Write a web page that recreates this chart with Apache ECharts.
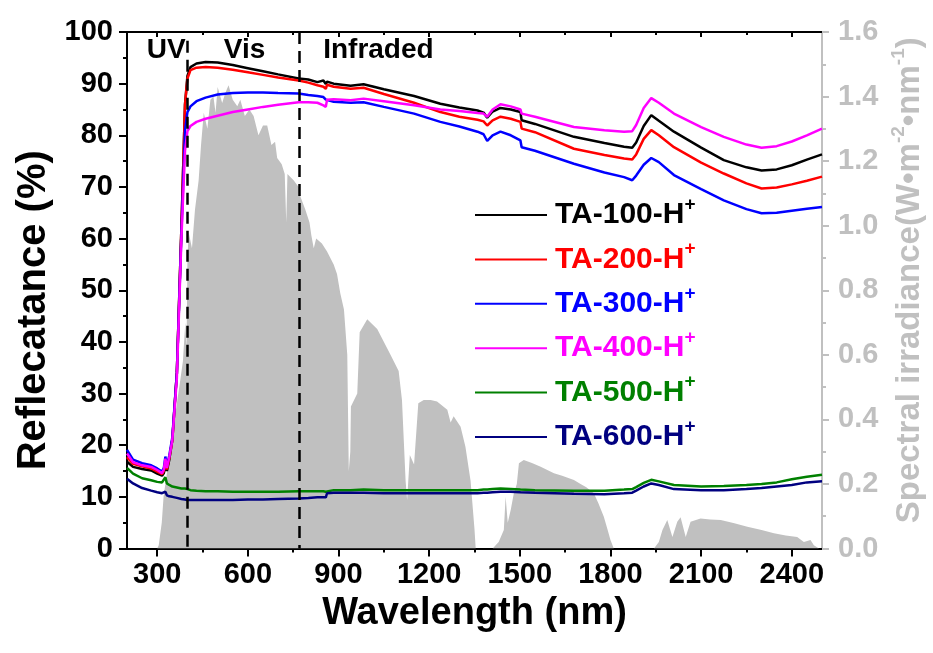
<!DOCTYPE html>
<html>
<head>
<meta charset="utf-8">
<script src="https://cdn.jsdelivr.net/npm/echarts@6/dist/echarts.min.js"></script>
<style>html,body{margin:0;padding:0;background:#fff}#c{width:933px;height:653px}</style>
</head>
<body>
<div id="c"></div>
<script>
const FONT = 'Liberation Sans, Arial, sans-serif';
const xMajorTicks = [300, 600, 900, 1200, 1500, 1800, 2100, 2400];
const xMinorTicks = [450, 750, 1050, 1350, 1650, 1950, 2250];
const seriesNames = ['TA-100-H+', 'TA-200-H+', 'TA-300-H+', 'TA-400-H+', 'TA-500-H+', 'TA-600-H+'];
const seriesColors = ['#000000', '#ff0000', '#0000ff', '#ff00ff', '#008000', '#000080'];
const regionLabels = ['UV', 'Vis', 'Infraded'];
const regionLabelPos = [[330, 96.5], [589, 96.5], [1032, 96.5]];
const regionBounds = [400, 770];

const wl = [200,220,250,280,300,316,322,327,332,340,350,365,380,392,400,410,430,460,500,550,600,650,700,768,800,830,850,858,862,884,940,983,1050,1150,1237,1300,1360,1380,1392,1410,1436,1470,1502,1506,1550,1679,1780,1845,1872,1885,1910,1935,1960,2010,2100,2175,2250,2300,2350,2400,2450,2500];
const ta100 = [16.8,15.8,15.4,15.1,14.5,14.1,14.6,16.2,15.0,17.2,21.0,34.0,62.0,86.0,91.5,93.2,93.9,94.2,94.1,93.6,93.0,92.4,91.8,91.0,90.8,90.3,90.6,89.9,90.4,90.0,89.6,89.9,88.9,87.6,86.1,85.4,84.8,84.4,83.4,84.6,85.3,85.0,84.5,82.9,82.2,79.7,78.5,77.8,77.6,78.6,81.8,83.9,82.8,80.7,77.6,75.2,73.8,73.2,73.4,74.2,75.3,76.3];
const ta200 = [17.7,16.4,15.9,15.5,14.9,14.4,15.0,16.8,15.3,17.5,21.0,34.0,62.0,86.0,91.0,92.6,93.1,93.2,93.1,92.7,92.2,91.7,91.2,90.6,90.2,89.7,89.4,89.0,89.8,89.4,89.0,89.2,88.0,86.3,84.5,83.6,83.0,82.7,81.9,82.9,83.6,83.2,82.6,81.3,80.6,77.4,76.2,75.5,75.3,76.3,79.3,81.0,80.0,77.7,74.7,72.6,70.7,69.7,69.9,70.5,71.2,72.0];
const ta300 = [19.1,17.2,16.5,16.1,15.5,14.9,15.6,17.8,16.0,18.0,21.5,34.0,61.0,81.0,84.5,85.6,86.6,87.3,87.9,88.2,88.3,88.3,88.2,88.1,87.8,87.6,87.4,86.9,86.6,86.5,86.3,86.4,85.5,84.2,82.6,81.7,80.7,80.2,78.9,80.0,80.7,80.0,79.0,77.7,77.0,74.5,72.8,71.9,71.3,72.2,74.3,75.6,74.8,72.3,69.6,67.4,65.7,64.9,65.0,65.4,65.8,66.1];
const ta400 = [18.4,16.7,16.1,15.8,15.2,14.6,15.3,17.4,15.6,17.7,21.0,33.0,60.0,77.0,80.8,81.8,82.6,83.2,83.8,84.5,85.0,85.5,85.9,86.4,86.4,86.3,85.8,85.5,86.9,87.0,86.8,87.1,86.6,85.8,85.0,84.7,84.3,84.2,83.6,85.0,86.0,85.6,85.0,84.2,83.6,81.6,81.0,80.7,80.8,82.0,85.3,87.2,86.3,84.2,81.6,79.7,78.2,77.6,77.9,78.8,80.0,81.3];
const ta500 = [15.6,14.5,13.6,13.2,12.9,12.8,12.9,13.8,12.6,12.3,12.0,11.8,11.6,11.6,11.5,11.3,11.2,11.1,11.1,11.0,11.0,11.0,11.0,11.1,11.1,11.1,11.1,11.0,11.3,11.3,11.3,11.4,11.3,11.3,11.3,11.3,11.3,11.4,11.4,11.5,11.6,11.5,11.4,11.4,11.3,11.2,11.2,11.4,11.5,11.9,12.7,13.3,13.0,12.3,12.0,12.1,12.3,12.5,12.8,13.4,13.9,14.3];
const ta600 = [13.5,12.6,11.7,11.2,10.9,10.7,10.6,11.0,10.3,10.1,10.0,9.8,9.6,9.5,9.4,9.4,9.4,9.4,9.4,9.4,9.5,9.5,9.6,9.7,9.8,9.9,9.9,9.9,10.7,10.8,10.8,10.8,10.7,10.7,10.7,10.7,10.7,10.8,10.8,10.9,11.0,11.0,10.9,10.9,10.8,10.6,10.5,10.7,10.8,11.2,12.0,12.6,12.3,11.5,11.3,11.3,11.5,11.7,12.0,12.3,12.8,13.0];

// AM1.5 solar spectral irradiance (wavelength nm, W m^-2 nm^-1)
const irradiance = [[200,0],[300,0],[305,0.01],[315,0.08],[321,0.16],[330,0.22],[343,0.31],[355,0.38],[365,0.45],[376,0.52],[385,0.58],[393,0.70],[397,0.62],[400,0.90],[404,0.98],[415,0.93],[425,1.05],[437,1.14],[445,1.25],[454,1.35],[466,1.30],[476,1.39],[486,1.40],[493,1.35],[500,1.43],[515,1.38],[525,1.41],[536,1.435],[550,1.39],[565,1.37],[575,1.39],[590,1.34],[605,1.36],[619,1.34],[635,1.28],[650,1.31],[664,1.31],[678,1.25],[690,1.26],[697,1.21],[712,1.19],[722,1.16],[727,1.01],[731,1.16],[752,1.14],[768,1.12],[774,1.09],[790,1.05],[804,1.01],[810,0.97],[818,0.93],[826,0.96],[845,0.945],[862,0.92],[884,0.88],[895,0.85],[906,0.79],[918,0.74],[929,0.60],[934,0.24],[939,0.30],[941,0.44],[962,0.48],[970,0.67],[995,0.71],[1028,0.68],[1072,0.60],[1099,0.55],[1110,0.46],[1122,0.21],[1127,0.15],[1136,0.29],[1150,0.26],[1164,0.45],[1182,0.46],[1205,0.46],[1226,0.455],[1260,0.43],[1271,0.39],[1281,0.41],[1304,0.377],[1320,0.315],[1337,0.21],[1350,0.06],[1354,0],[1410,0],[1430,0.02],[1447,0.057],[1453,0.16],[1460,0.08],[1470,0.12],[1480,0.17],[1490,0.20],[1497,0.264],[1513,0.274],[1540,0.265],[1569,0.253],[1613,0.233],[1640,0.225],[1679,0.212],[1701,0.20],[1720,0.19],[1745,0.171],[1760,0.14],[1778,0.098],[1790,0.06],[1800,0.026],[1811,0],[1944,0],[1960,0.02],[1972,0.057],[1988,0.088],[2005,0.036],[2021,0.083],[2032,0.097],[2049,0.036],[2065,0.083],[2098,0.093],[2130,0.09],[2165,0.088],[2210,0.078],[2253,0.067],[2300,0.057],[2341,0.047],[2380,0.04],[2418,0.036],[2440,0.02],[2462,0.026],[2473,0.01],[2490,0],[2500,0]];

const reflectance = [ta100, ta200, ta300, ta400, ta500, ta600];

const chart = echarts.init(document.getElementById('c'), null, {renderer: 'canvas'});
const gridRect = {left: 127, right: 111, top: 32, bottom: 104.5, containLabel: false, outerBoundsMode: 'none'};

const lineSeries = reflectance.map((arr, i) => ({
  name: seriesNames[i],
  type: 'line',
  xAxisIndex: 0, yAxisIndex: 0,
  data: wl.map((w, j) => [w, arr[j]]),
  symbol: 'none',
  lineStyle: {color: seriesColors[i], width: 2.5},
  itemStyle: {color: seriesColors[i]},
  z: 3
}));
lineSeries[0].markLine = {
  silent: true, symbol: 'none', animation: false,
  label: {show: false},
  lineStyle: {type: [12, 7], color: '#000', width: 2.5},
  data: [
    [{coord: [regionBounds[0], 98.3]}, {coord: [regionBounds[0], 0]}],
    [{coord: [regionBounds[1], 100]}, {coord: [regionBounds[1], 0]}]
  ]
};

const option = {
  animation: false,
  backgroundColor: '#fff',
  textStyle: {fontFamily: FONT},
  grid: [gridRect, Object.assign({}, gridRect)],
  legend: {
    orient: 'vertical', left: 475, top: 195, padding: 0,
    icon: 'rect', itemWidth: 72, itemHeight: 2, itemGap: 4.4,
    textStyle: {fontSize: 30, fontWeight: 'bold', fontFamily: FONT, lineHeight: 30,
      rich: {
        m: {fontSize: 30, fontWeight: 'bold', fontFamily: FONT, lineHeight: 30, padding: [0, 0, 0, 3]},
        s: {fontSize: 19, fontWeight: 'bold', fontFamily: FONT, lineHeight: 9, padding: [0, 0, 21, 0]}
      }},
    formatter: n => '{m|' + n.slice(0, -1) + '}{s|+}',
    data: seriesNames.map((n, i) => ({name: n, textStyle: {color: seriesColors[i]}}))
  },
  xAxis: [
    {
      type: 'value', gridIndex: 0, position: 'bottom', min: 200, max: 2500,
      axisLine: {show: true, onZero: false, lineStyle: {color: '#000', width: 2}},
      axisTick: {show: true, customValues: xMajorTicks, length: 8, lineStyle: {color: '#000', width: 2}},
      axisLabel: {customValues: xMajorTicks, formatter: v => String(v), fontSize: 29, fontWeight: 'bold', color: '#000', margin: 12, fontFamily: FONT},
      splitLine: {show: false},
      name: 'Wavelength (nm)', nameLocation: 'middle', nameGap: 40,
      nameTextStyle: {fontSize: 38, fontWeight: 'bold', color: '#000', fontFamily: FONT}
    },
    {
      type: 'value', gridIndex: 0, position: 'top', min: 200, max: 2500,
      axisLine: {show: true, onZero: false, lineStyle: {color: '#000', width: 2}},
      axisTick: {show: true, inside: true, customValues: xMajorTicks, length: 5, lineStyle: {color: '#000', width: 2}},
      axisLabel: {show: false}, splitLine: {show: false}
    },
    {
      type: 'value', gridIndex: 1, position: 'bottom', min: 200, max: 2500,
      axisLine: {show: false},
      axisTick: {show: true, customValues: xMinorTicks, length: 4, lineStyle: {color: '#000', width: 2}},
      axisLabel: {show: false}, splitLine: {show: false}
    },
    {
      type: 'value', gridIndex: 1, position: 'top', min: 200, max: 2500,
      axisLine: {show: false},
      axisTick: {show: true, inside: true, customValues: xMinorTicks, length: 3, lineStyle: {color: '#000', width: 2}},
      axisLabel: {show: false}, splitLine: {show: false}
    }
  ],
  yAxis: [
    {
      type: 'value', gridIndex: 0, position: 'left', min: 0, max: 100, interval: 10,
      axisLine: {show: true, onZero: false, lineStyle: {color: '#000', width: 2}},
      axisTick: {show: true, length: 8, lineStyle: {color: '#000', width: 2}},
      minorTick: {show: true, splitNumber: 2, length: 4, lineStyle: {color: '#000', width: 2}},
      axisLabel: {fontSize: 29, fontWeight: 'bold', color: '#000', margin: 14, fontFamily: FONT},
      splitLine: {show: false},
      name: 'Reflecatance (%)', nameLocation: 'middle', nameGap: 70, nameRotate: 90,
      nameTextStyle: {fontSize: 40, fontWeight: 'bold', color: '#000', fontFamily: FONT, padding: [0, 40, 0, 0]}
    },
    {
      type: 'value', gridIndex: 0, position: 'right', min: 0, max: 1.6, interval: 0.2,
      axisLine: {show: true, onZero: false, lineStyle: {color: '#c0c0c0', width: 2}},
      axisTick: {show: true, length: 7, lineStyle: {color: '#c0c0c0', width: 2}},
      minorTick: {show: true, splitNumber: 2, length: 4, lineStyle: {color: '#c0c0c0', width: 2}},
      axisLabel: {fontSize: 29, fontWeight: 'bold', color: '#c0c0c0', margin: 16, fontFamily: FONT,
        formatter: v => v.toFixed(1)},
      splitLine: {show: false},
      name: '{a|Spectral irradiance(W•m}{s|-2}{a|•nm}{s|-1}{a|)}',
      nameLocation: 'middle', nameGap: 70, nameRotate: 90,
      nameTextStyle: {color: '#c0c0c0', fontFamily: FONT, padding: [0, 0, 0, 20],
        rich: {
          a: {fontSize: 33, fontWeight: 'bold', color: '#c0c0c0', fontFamily: FONT, lineHeight: 33},
          s: {fontSize: 19, fontWeight: 'bold', color: '#c0c0c0', fontFamily: FONT, lineHeight: 9, padding: [0, 0, 23, 0]}
        }}
    },
    {
      type: 'value', gridIndex: 1, min: 0, max: 100, show: false
    }
  ],
  series: [
    {
      name: 'AM1.5', type: 'line', xAxisIndex: 0, yAxisIndex: 1,
      data: irradiance, symbol: 'none',
      lineStyle: {width: 0, color: '#c0c0c0'},
      areaStyle: {color: '#c0c0c0', opacity: 1},
      itemStyle: {color: '#c0c0c0'},
      z: 1
    }
  ].concat(lineSeries)
};
chart.setOption(option);

const graphics = regionLabels.map((t, i) => {
  const p = chart.convertToPixel({xAxisIndex: 0, yAxisIndex: 0}, regionLabelPos[i]);
  return {
    type: 'text', x: p[0], y: p[1], z: 10,
    style: {text: t, fill: '#000', fontSize: 28, fontWeight: 'bold', fontFamily: FONT, align: 'center', verticalAlign: 'middle'}
  };
});
chart.setOption({graphic: graphics});
</script>
</body>
</html>
